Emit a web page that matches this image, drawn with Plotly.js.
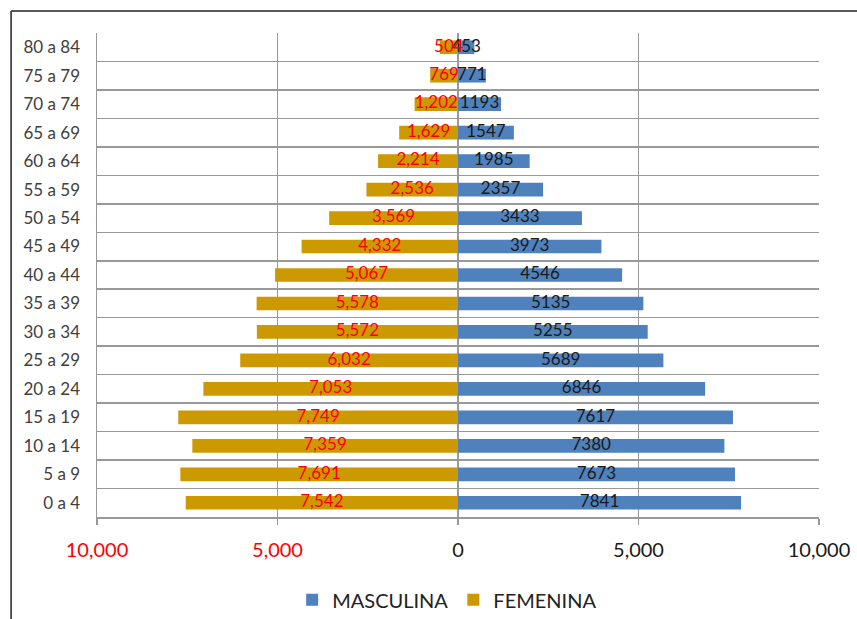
<!DOCTYPE html>
<html>
<head>
<meta charset="utf-8">
<script src="https://cdn.plot.ly/plotly-3.0.1.min.js"></script>
<style>html,body{margin:0;padding:0;background:#fff;}#chart{width:857px;height:619px;}</style>
</head>
<body>
<div id="chart"></div>
<script>
const categories = ["0 a 4","5 a 9","10 a 14","15 a 19","20 a 24","25 a 29","30 a 34","35 a 39","40 a 44","45 a 49","50 a 54","55 a 59","60 a 64","65 a 69","70 a 74","75 a 79","80 a 84"];
const masculina = [7841,7673,7380,7617,6846,5689,5255,5135,4546,3973,3433,2357,1985,1547,1193,771,453];
const femenina = [7542,7691,7359,7749,7053,6032,5572,5578,5067,4332,3569,2536,2214,1629,1202,769,504];
const tickVals = [-10000,-5000,0,5000,10000];
const tickText = ['<span style="color:#FF0000">10,000</span>','<span style="color:#FF0000">5,000</span>','0','5,000','10,000'];

const FONT = 'Lato, "Open Sans", sans-serif';
const fmt = v => v.toLocaleString('en-US');

const traces = [
  {type:'bar', orientation:'h', name:'MASCULINA', y:categories, x:masculina,
   marker:{color:'#4F81BD'}, hoverinfo:'x+y'},
  {type:'bar', orientation:'h', name:'FEMENINA', y:categories, x:femenina.map(v=>-v),
   marker:{color:'#CC9900'}, hoverinfo:'y'},
  {type:'scatter', mode:'text', showlegend:false, y:categories, x:masculina.map(v=>v/2),
   text:masculina.map(String), textfont:{family:FONT, size:17, color:'#1a1a1a'}, hoverinfo:'skip'},
  {type:'scatter', mode:'text', showlegend:false, y:categories, x:femenina.map(v=>-v/2),
   text:femenina.map(fmt), textfont:{family:FONT, size:17, color:'#FF0000'}, hoverinfo:'skip'}
];

const layout = {
  width:857, height:619,
  margin:{l:97, r:38, t:33, b:102},
  paper_bgcolor:'#fff', plot_bgcolor:'#fff',
  barmode:'overlay', bargap:0.52,
  font:{family:FONT, color:'#404040'},
  showlegend:true,
  legend:{orientation:'h', xref:'paper', x:0.485, xanchor:'center', yref:'container', y:0.031, yanchor:'middle',
          font:{family:FONT, size:20, color:'#222'}, traceorder:'normal'},
  xaxis:{range:[-10000,10000], tickvals:tickVals, ticktext:tickText, automargin:false,
         showgrid:true, gridcolor:'#999', gridwidth:1.5, zeroline:false,
         showline:true, linecolor:'#999', linewidth:1.5,
         ticks:'outside', ticklen:6, tickcolor:'#999', tickwidth:1.5, ticklabelstandoff:8,
         tickfont:{family:FONT, size:20, color:'#1a1a1a'}, fixedrange:true},
  yaxis:{type:'category', range:[-0.5, 16.5], tickson:'boundaries', showgrid:true, gridcolor:'#999', gridwidth:1.5,
         showline:true, linecolor:'#999', linewidth:1.5, ticks:'', automargin:false, ticklabelstandoff:12,
         tickfont:{family:FONT, size:17, color:'#404040'}, fixedrange:true},
  shapes:[
    {type:'line', xref:'paper', yref:'paper', x0:-0.119, x1:1.1, y0:1.0455, y1:1.0455, line:{color:'#222', width:1.5}},
    {type:'line', xref:'paper', yref:'paper', x0:-0.119, x1:-0.119, y0:1.0455, y1:-0.25, line:{color:'#222', width:1.5}}
  ]
};
Plotly.newPlot('chart', traces, layout, {displayModeBar:false, staticPlot:true});
</script>
</body>
</html>
